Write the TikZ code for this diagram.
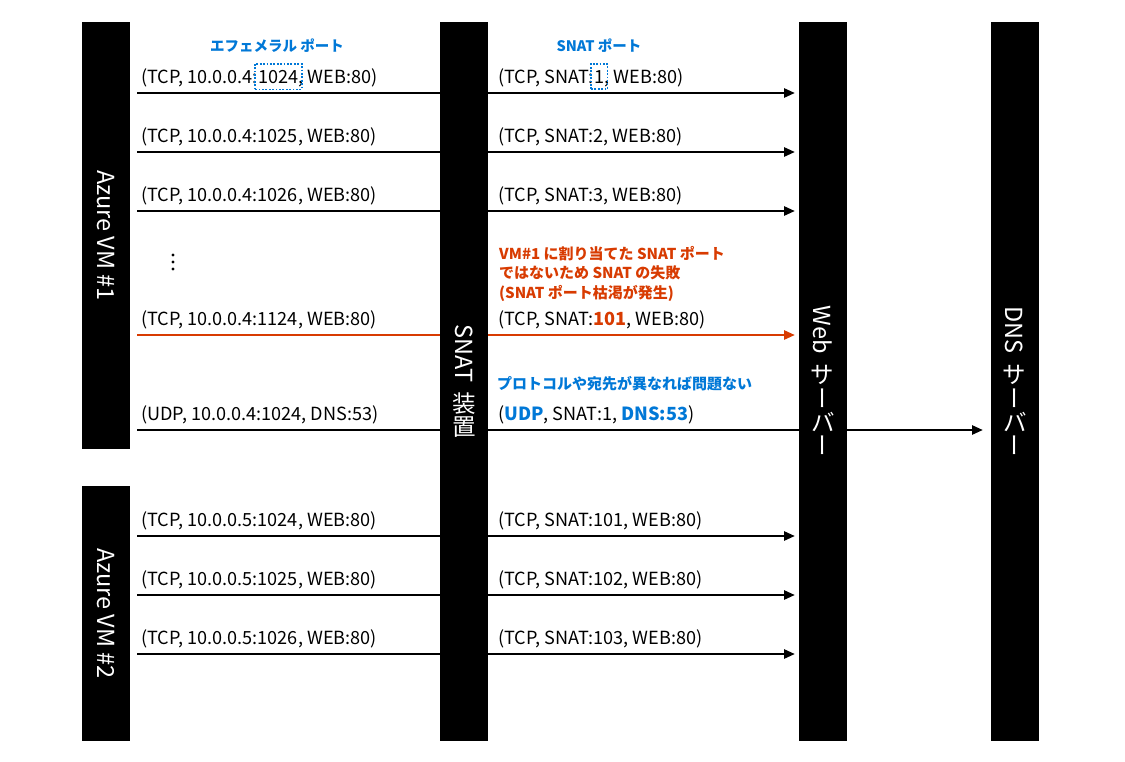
\documentclass[tikz,border=0pt]{standalone}
\usepackage{fontspec}
\setmainfont{Noto Sans CJK JP}
\usepackage{graphicx}
\usetikzlibrary{arrows.meta,calc}
\definecolor{blu}{HTML}{0078D7}
\definecolor{rd}{HTML}{D83B01}
\newcommand{\upr}[1]{\makebox[1em][c]{\rotatebox[origin=c]{90}{#1}}}
\tikzset{
  bar/.style={fill=black, draw=none, minimum width=48pt, inner sep=0, outer sep=0, anchor=north west},
  vlab/.style={rotate=-90, text=white, font=\fontsize{23.5}{26}\selectfont, inner sep=0},
  lbl/.style={inner sep=0, anchor=base west, font=\fontsize{18.1}{20}\selectfont},
  head/.style={inner sep=0, text=blu, font=\fontsize{14.5}{17}\selectfont\bfseries},
  arr/.style={line width=2.6pt, -{Triangle[length=11pt,width=9pt]}},
  dbox/.style={draw=blu, line width=1.8pt, dash pattern=on 1.8pt off 1.6pt},
}
\begin{document}
\begin{tikzpicture}[x=1pt,y=-1pt]
\useasboundingbox[fill=white] (0,0) rectangle (1125,761);
% row coordinates
\foreach \n/\y in {1/93,2/152,3/211,4/335,5/430,6/536,7/595,8/654}{
  \coordinate (r\n) at (0,\y);
}
% bars
\node[bar, minimum height=427pt] (vm1) at (82,22) {};
\node[bar, minimum height=255pt] (vm2) at (82,486) {};
\node[bar, minimum height=719pt] (snat) at (440,22) {};
\node[bar, minimum height=719pt] (web) at (799,22) {};
\node[bar, minimum height=719pt] (dns) at (991,22) {};
% arrows
\foreach \n in {1,2,3}{
  \draw[arr] ([xshift=7pt]vm1.east |- r\n) -- ([xshift=-4pt]web.west |- r\n);
}
\draw[arr, rd] ([xshift=7pt]vm1.east |- r4) -- ([xshift=-4pt]web.west |- r4);
\draw[arr] ([xshift=7pt]vm1.east |- r5) -- ([xshift=-8pt]dns.west |- r5);
\foreach \n in {6,7,8}{
  \draw[arr] ([xshift=7pt]vm2.east |- r\n) -- ([xshift=-4pt]web.west |- r\n);
}
% redraw bars on top of the lines
\fill[black] (snat.north west) rectangle (snat.south east);
\fill[black] (web.north west) rectangle (web.south east);
% bar labels
\node[vlab] (vm1l) at (vm1.center) {Azure VM \#1};
\node[vlab] (vm2l) at (vm2.center) {Azure VM \#2};
\node[vlab] (snatl) at (snat.center) {SNAT\hspace{0.4em}\upr{装}\upr{置}};
\node[vlab] (webl) at (web.center) {Web\hspace{0.4em}\upr{サ}ー\upr{バ}ー};
\node[vlab] (dnsl) at (dns.center) {DNS\hspace{0.4em}\upr{サ}ー\upr{バ}ー};
% headings
\node[head] (h1) at (277,46) {エフェメラル ポート};
\node[head] (h2) at (599,46) {SNAT ポート};
% row 1 (with dotted boxes)
\node[lbl] (l1a) at (141,83) {(TCP, 10.0.0.4:};
\node[lbl] (l1b) at (l1a.base east) {1024};
\node[lbl] (l1c) at (l1b.base east) {, WEB:80)};
\draw[dbox] ([shift={(-3pt,-6pt)}]l1b.south west) rectangle ([shift={(3pt,6pt)}]l1b.north east);
\node[lbl] (s1a) at (498,83) {(TCP, SNAT:};
\node[lbl] (s1b) at (s1a.base east) {1};
\node[lbl] (s1c) at (s1b.base east) {, WEB:80)};
\draw[dbox] ([shift={(-3pt,-6pt)}]s1b.south west) rectangle ([shift={(3pt,6pt)}]s1b.north east);
% rows 2,3
\node[lbl] (l2) at (141,142) {(TCP, 10.0.0.4:1025, WEB:80)};
\node[lbl] (s2) at (498,142) {(TCP, SNAT:2, WEB:80)};
\node[lbl] (l3) at (141,201) {(TCP, 10.0.0.4:1026, WEB:80)};
\node[lbl] (s3) at (498,201) {(TCP, SNAT:3, WEB:80)};
% ellipsis
\foreach \k/\yy in {a/255,b/262,c/269}{
  \fill (173,\yy) circle (1.7pt) coordinate (dot\k);
}
% row 4 (failure)
\node[lbl] (l4) at (141,325) {(TCP, 10.0.0.4:1124, WEB:80)};
\node[lbl] (s4) at (498,325) {(TCP, SNAT:\textbf{\color{rd}101}, WEB:80)};
\node[inner sep=0, anchor=north west, align=left, text=rd, font=\fontsize{15}{19.5}\selectfont\bfseries] (fail) at (499,246)
  {VM\#1 に割り当てた SNAT ポート\\ではないため SNAT の失敗\\(SNAT ポート枯渇が発生)};
% row 5 (UDP)
\node[inner sep=0, anchor=west, text=blu, font=\fontsize{15}{18}\selectfont\bfseries] (ok) at (497,384) {プロトコルや宛先が異なれば問題ない};
\node[lbl] (l5) at (141,420) {(UDP, 10.0.0.4:1024, DNS:53)};
\node[lbl] (s5) at (498,420) {(\textbf{\color{blu}UDP}, SNAT:1, \textbf{\color{blu}DNS:53})};
% VM2 rows
\node[lbl] (l6) at (141,526) {(TCP, 10.0.0.5:1024, WEB:80)};
\node[lbl] (s6) at (498,526) {(TCP, SNAT:101, WEB:80)};
\node[lbl] (l7) at (141,585) {(TCP, 10.0.0.5:1025, WEB:80)};
\node[lbl] (s7) at (498,585) {(TCP, SNAT:102, WEB:80)};
\node[lbl] (l8) at (141,644) {(TCP, 10.0.0.5:1026, WEB:80)};
\node[lbl] (s8) at (498,644) {(TCP, SNAT:103, WEB:80)};
\end{tikzpicture}
\end{document}
